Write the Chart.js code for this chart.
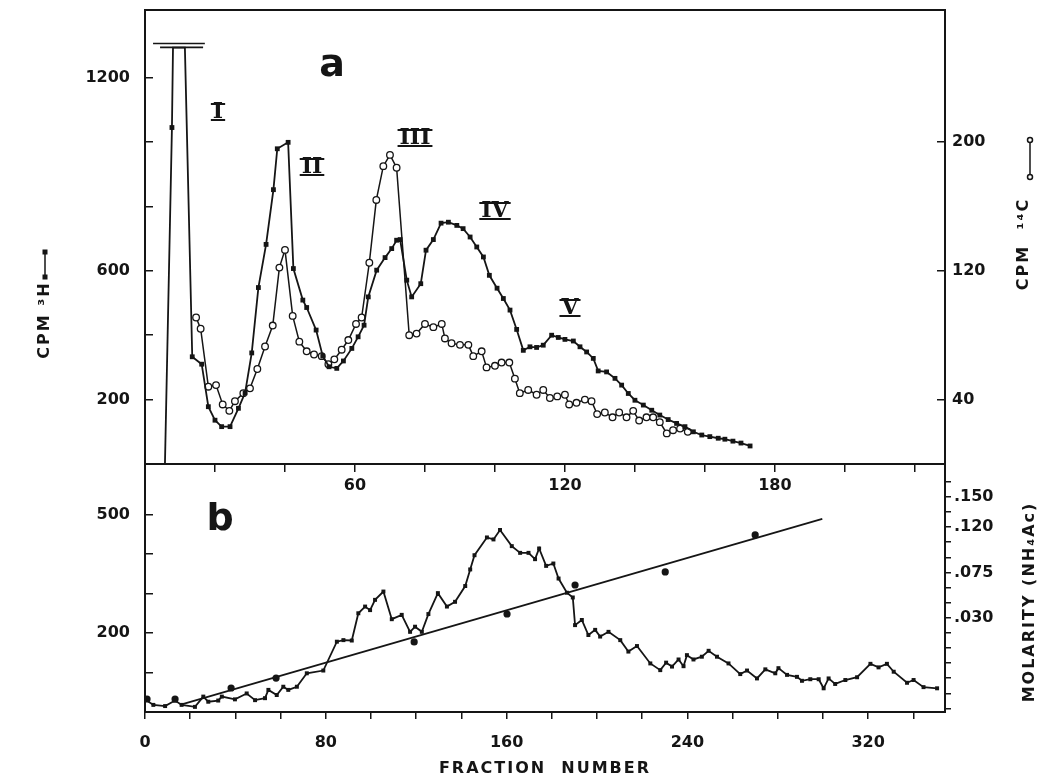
<!DOCTYPE html>
<html>
<head>
<meta charset="utf-8">
<script src="https://cdn.jsdelivr.net/npm/chart.js@4.4.0/dist/chart.umd.min.js"></script>
<style>
html, body { margin: 0; padding: 0; background: #fff; }
#wrap { position: relative; width: 1059px; height: 782px; }
#wrap canvas { position: absolute; left: 0; top: 0; }
</style>
</head>
<body>
<div id="wrap">
<canvas id="chartA" width="1059" height="782"></canvas>
<canvas id="chartB" width="1059" height="782"></canvas>
</div>
<script>
// ---- panel a : 3H (filled squares, left axis) ----
const h3Fraction = [5.7, 7.7, 8.0, 11.4, 13.5, 16.2, 18.1, 20.0, 21.9, 24.3, 26.7, 28.6, 30.5, 32.4, 34.6, 36.7, 37.8, 40.9,
    42.4, 45.1, 46.2, 48.9, 50.8, 52.6, 54.8, 56.7, 59.1, 60.9, 62.6, 63.8, 66.2, 68.6, 70.5, 71.9, 72.9, 74.8, 76.2, 78.8,
    80.3, 82.4, 84.6, 86.7, 89.1, 90.9, 92.9, 94.8, 96.7, 98.4, 100.6, 102.4, 104.3, 106.2, 108.1, 110.0, 111.9, 113.8,
    116.2, 118.1, 120.0, 122.4, 124.3, 126.2, 128.1, 129.5, 131.9, 134.3, 136.2, 138.1, 140.0, 142.4, 144.8, 147.1, 149.5,
    151.9, 154.3, 156.7, 159.1, 161.4, 163.8, 165.7, 168.0, 170.3, 172.9];
const h3Cpm = [0, 1045, 1293, 1293, 333, 310, 178, 136, 116, 116, 173, 221, 345, 548, 682, 852, 979, 999,
    607, 509, 486, 416, 335, 302, 297, 320, 359, 395, 431, 519, 602, 641, 669, 695, 697, 571, 519, 560,
    664, 697, 748, 751, 741, 731, 705, 674, 643, 586, 546, 514, 478, 418, 353, 364, 362, 369,
    400, 393, 387, 382, 364, 348, 328, 289, 286, 266, 245, 219, 198, 183, 167, 152, 138,
    126, 116, 100, 90, 85, 80, 77, 71, 65, 56];

// ---- panel a : 14C (open circles, right axis) ----
const c14Fraction = [14.6, 15.9, 18.1, 20.3, 22.2, 24.1, 25.7, 28.1, 30.0, 32.1, 34.3, 36.5, 38.4, 40.0, 42.2, 44.1, 46.2,
    48.3, 50.5, 52.4, 54.1, 56.2, 58.1, 60.3, 61.9, 64.1, 66.1, 68.1, 70.0, 71.9, 75.5, 77.6, 80.0, 82.4, 84.8, 85.7,
    87.6, 90.0, 92.4, 93.8, 96.2, 97.6, 100.0, 101.9, 104.1, 105.7, 107.1, 109.5, 111.9, 113.8, 115.7, 117.8, 120.0,
    121.2, 123.3, 125.7, 127.6, 129.2, 131.4, 133.6, 135.5, 137.6, 139.5, 141.2, 143.3, 145.2, 147.1, 149.1, 150.9,
    152.9, 155.1];
const c14Cpm = [91, 84, 48, 49, 37, 33, 39, 44, 47, 59, 73, 86, 122, 133, 92, 76, 70,
    68, 67, 62, 65, 71, 77, 87, 91, 125, 164, 185, 192, 184, 80, 81, 87, 85, 87, 78,
    75, 74, 74, 67, 70, 60, 61, 63, 63, 53, 44, 46, 43, 46, 41, 42, 43,
    37, 38, 40, 39, 31, 32, 29, 32, 29, 33, 27, 29, 29, 26, 19, 21,
    22, 20];

// off-scale mark over peak I (two short bars)
const breakFraction = [2.3, 17.1, 10, 4.3, 16.6];
const breakCpm = [1306, 1306, null, 1294, 1294];

// ---- panel b : radioactivity profile ----
const profFraction = [0.0, 3.7, 8.9, 13.3, 16.2, 22.1, 25.8, 28.0, 32.4, 34.0, 39.8, 45.0, 48.7, 53.1, 54.6, 58.3, 61.2,
    63.4, 67.2, 71.6, 78.9, 84.9, 87.8, 91.5, 94.4, 97.4, 99.6, 101.8, 105.5, 109.2, 113.6, 117.3, 119.5, 122.5, 125.4,
    129.6, 133.6, 137.2, 141.7, 143.9, 145.8, 151.3, 154.2, 157.1, 162.3, 166.0, 169.7, 172.6, 174.4, 177.5, 180.7,
    183.0, 186.7, 189.3, 190.3, 193.3, 196.2, 199.2, 201.4, 205.1, 210.3, 213.9, 217.7, 223.6, 228.0, 230.6, 233.2,
    236.1, 238.3, 239.8, 242.7, 246.4, 249.4, 253.1, 258.2, 263.4, 266.4, 270.8, 274.5, 278.9, 280.3, 284.1, 288.5,
    290.7, 294.4, 298.1, 300.3, 302.5, 305.4, 309.9, 315.1, 321.0, 324.6, 328.3, 331.3, 337.2, 340.1, 344.5, 350.5];
const profCpm = [32, 18, 15, 29, 18, 13, 39, 26, 29, 39, 32, 47, 30, 35, 56, 43, 64,
    56, 64, 98, 105, 178, 182, 181, 250, 267, 258, 284, 305, 235, 246, 203, 216, 203, 248,
    301, 267, 279, 319, 361, 397, 442, 437, 461, 420, 403, 403, 387, 414, 370, 376,
    338, 302, 290, 220, 233, 195, 208, 191, 203, 182, 153, 167, 123, 106, 125, 115,
    133, 116, 144, 133, 140, 155, 140, 123, 96, 105, 85, 108, 98, 111, 94, 89,
    79, 83, 83, 60, 85, 71, 81, 88, 122, 113, 122, 102, 74, 81, 63, 60];

// ---- panel b : NH4Ac gradient (fitted line + measured points) ----
const gradFraction = [15.5, 299.7];
const gradMolarity = [-0.0565, 0.128];
const molFraction = [0.9, 13.3, 38.1, 58.0, 119.1, 160.2, 190.3, 230.2, 270.0];
const molValue = [-0.0506, -0.0506, -0.0397, -0.0298, 0.006, 0.0337, 0.0625, 0.0754, 0.1121];

// ---- ticks ----
const aFracTicks = [20, 40, 60, 80, 100, 120, 140, 160, 180, 200, 220];
const aFracLabels = [60, 120, 180];
const h3Ticks = [200, 400, 600, 800, 1000, 1200];
const h3Labels = [1200, 600, 200];
const c14Ticks = [40, 120, 200];
const bFracTicks = [0, 20, 40, 60, 80, 100, 120, 140, 160, 180, 200, 220, 240, 260, 280, 300, 320, 340];
const bFracLabels = [0, 80, 160, 240, 320];
const profTicks = [100, 200, 300, 400, 500];
const profLabels = [500, 200];
const molTicks = [-0.06, -0.045, -0.03, -0.015, 0, 0.015, 0.03, 0.045, 0.06, 0.075, 0.09, 0.105, 0.12, 0.135, 0.15, 0.165];
const molLabels = [0.15, 0.12, 0.075, 0.03];

const INK = '#151515';
const tickFont = { family: 'DejaVu Sans', weight: 'bold', size: 16 };

function pts(xs, ys) {
    return xs.map((x, i) => ({ x: x, y: ys[i] }));
}
function fixedTicks(list) {
    return scale => { scale.ticks = list.map(v => ({ value: v })); };
}
function pick(list, fmt) {
    return v => list.some(l => Math.abs(l - v) < 1e-9) ? (fmt ? fmt(v) : String(v)) : '';
}
// pin the axis box size so both panels share the same plot edges
function size(w, h) {
    return scale => {
        if (w !== null) scale.width = w;
        if (h !== null) scale.height = h;
        scale.paddingTop = 0;
        scale.paddingBottom = 0;
        scale.paddingLeft = 0;
        scale.paddingRight = 0;
    };
}

// box round each panel
const frame = {
    id: 'frame',
    afterDraw(chart) {
        const { ctx, chartArea: a } = chart;
        ctx.save();
        ctx.strokeStyle = INK;
        ctx.lineWidth = 2;
        ctx.strokeRect(a.left, a.top, a.right - a.left, a.bottom - a.top);
        ctx.restore();
    }
};

// free text: panel letters, peak numerals, side titles
const notes = {
    id: 'notes',
    afterDraw(chart, args, opts) {
        const ctx = chart.ctx;
        (opts.items || []).forEach(it => {
            ctx.save();
            ctx.fillStyle = INK;
            ctx.strokeStyle = INK;
            ctx.font = it.font;
            ctx.letterSpacing = it.spacing || '0px';
            ctx.textAlign = 'center';
            ctx.textBaseline = 'middle';
            ctx.translate(it.x, it.y);
            if (it.rotate) ctx.rotate(it.rotate);
            ctx.fillText(it.text, 0, 0);
            if (it.bars) {
                const w = ctx.measureText(it.text).width / 2 + 2;
                ctx.lineWidth = 2.2;
                ctx.beginPath();
                ctx.moveTo(-w, -it.bars); ctx.lineTo(w, -it.bars);
                ctx.moveTo(-w, it.bars); ctx.lineTo(w, it.bars);
                ctx.stroke();
            }
            ctx.restore();
        });
        (opts.keys || []).forEach(k => {
            ctx.save();
            ctx.strokeStyle = INK;
            ctx.fillStyle = k.open ? '#fff' : INK;
            ctx.lineWidth = 1.5;
            ctx.beginPath();
            ctx.moveTo(k.x, k.y1); ctx.lineTo(k.x, k.y2);
            ctx.stroke();
            [k.y1, k.y2].forEach(y => {
                ctx.beginPath();
                if (k.open) { ctx.arc(k.x, y, 2.5, 0, Math.PI * 2); ctx.fill(); ctx.stroke(); }
                else ctx.fillRect(k.x - 2.5, y - 2.5, 5, 5);
            });
            ctx.restore();
        });
    }
};

const roman = 'bold 22px "DejaVu Serif"';
const sideFont = 'bold 16px "DejaVu Sans"';

new Chart(document.getElementById('chartA'), {
    type: 'line',
    data: {
        datasets: [{
            label: 'CPM 3H',
            data: pts(h3Fraction, h3Cpm),
            yAxisID: 'yL',
            borderColor: INK,
            borderWidth: 1.8,
            pointStyle: 'rect',
            pointRadius: c => (h3Cpm[c.dataIndex] === 0 || h3Cpm[c.dataIndex] > 1200) ? 0 : 3.4,
            pointBackgroundColor: INK,
            pointBorderWidth: 0
        }, {
            label: 'CPM 14C',
            data: pts(c14Fraction, c14Cpm),
            yAxisID: 'yR',
            borderColor: INK,
            borderWidth: 1.5,
            pointStyle: 'circle',
            pointRadius: 3.3,
            pointBackgroundColor: '#fff',
            pointBorderColor: INK,
            pointBorderWidth: 1.3
        }, {
            label: 'break',
            data: pts(breakFraction, breakCpm),
            yAxisID: 'yL',
            borderColor: INK,
            borderWidth: 1.6,
            pointRadius: 0,
            spanGaps: false
        }]
    },
    options: {
        responsive: false,
        animation: false,
        devicePixelRatio: 1,
        layout: { padding: { top: 10, left: 0, right: 0, bottom: 278 } },
        plugins: {
            legend: { display: false },
            tooltip: { enabled: false },
            notes: {
                items: [
                    { text: 'a', x: 332, y: 66, font: 'bold 38px "DejaVu Sans"' },
                    { text: 'I', x: 218, y: 112, font: roman, bars: 8 },
                    { text: 'II', x: 312, y: 167, font: roman, bars: 8 },
                    { text: 'III', x: 415, y: 138, font: roman, bars: 8 },
                    { text: 'IV', x: 495, y: 211, font: roman, bars: 8 },
                    { text: 'V', x: 570, y: 308, font: roman, bars: 8 },
                    { text: 'CPM ³H', x: 45, y: 320, font: sideFont, spacing: '2px', rotate: -Math.PI / 2 },
                    { text: 'CPM  ¹⁴C', x: 1024, y: 244, font: sideFont, spacing: '2px', rotate: -Math.PI / 2 }
                ],
                keys: [
                    { x: 45, y1: 252, y2: 277, open: false },
                    { x: 1030, y1: 140, y2: 177, open: true }
                ]
            }
        },
        scales: {
            x: {
                type: 'linear', position: 'bottom', min: 0, max: 228.6,
                afterFit: size(null, 40),
                afterBuildTicks: fixedTicks(aFracTicks),
                ticks: { callback: pick(aFracLabels), font: tickFont, color: INK, padding: 4, maxRotation: 0, autoSkip: false },
                grid: { drawOnChartArea: false, tickLength: 8, color: INK, lineWidth: 1.5 },
                border: { display: false }
            },
            yL: {
                type: 'linear', position: 'left', min: 0, max: 1410,
                afterFit: size(145, null),
                afterBuildTicks: fixedTicks(h3Ticks),
                ticks: { callback: pick(h3Labels), font: tickFont, color: INK, padding: 23, autoSkip: false },
                grid: { drawOnChartArea: false, tickLength: -8, color: INK, lineWidth: 1.5 },
                border: { display: false }
            },
            yR: {
                type: 'linear', position: 'right', min: 0, max: 282,
                afterFit: size(114, null),
                afterBuildTicks: fixedTicks(c14Ticks),
                ticks: { font: tickFont, color: INK, padding: 15, autoSkip: false },
                grid: { drawOnChartArea: false, tickLength: -8, color: INK, lineWidth: 1.5 },
                border: { display: false }
            }
        }
    },
    plugins: [frame, notes]
});

new Chart(document.getElementById('chartB'), {
    type: 'line',
    data: {
        datasets: [{
            label: 'CPM',
            data: pts(profFraction, profCpm),
            yAxisID: 'yC',
            borderColor: INK,
            borderWidth: 1.8,
            pointStyle: 'rect',
            pointRadius: 2.8,
            pointBackgroundColor: INK,
            pointBorderWidth: 0
        }, {
            label: 'gradient',
            data: pts(gradFraction, gradMolarity),
            yAxisID: 'yM',
            borderColor: INK,
            borderWidth: 1.8,
            pointRadius: 0
        }, {
            label: 'molarity',
            data: pts(molFraction, molValue),
            yAxisID: 'yM',
            showLine: false,
            pointStyle: 'circle',
            pointRadius: 3.6,
            pointBackgroundColor: INK,
            pointBorderWidth: 0
        }]
    },
    options: {
        responsive: false,
        animation: false,
        devicePixelRatio: 1,
        layout: { padding: { top: 464, left: 0, right: 0, bottom: 0 } },
        plugins: {
            legend: { display: false },
            tooltip: { enabled: false },
            notes: {
                items: [
                    { text: 'b', x: 220, y: 520, font: 'bold 38px "DejaVu Sans"' },
                    { text: 'FRACTION  NUMBER', x: 545, y: 769, font: 'bold 16px "DejaVu Sans"', spacing: '2px' },
                    { text: 'MOLARITY (NH₄Ac)', x: 1030, y: 602, font: sideFont, spacing: '2px', rotate: -Math.PI / 2 }
                ]
            }
        },
        scales: {
            x: {
                type: 'linear', position: 'bottom', min: 0, max: 354,
                afterFit: size(null, 70),
                afterBuildTicks: fixedTicks(bFracTicks),
                ticks: { callback: pick(bFracLabels), font: tickFont, color: INK, padding: 14, maxRotation: 0, autoSkip: false },
                grid: { drawOnChartArea: false, tickLength: 7, color: INK, lineWidth: 1.5 },
                border: { display: false }
            },
            yC: {
                type: 'linear', position: 'left', min: 0, max: 628,
                afterFit: size(145, null),
                afterBuildTicks: fixedTicks(profTicks),
                ticks: { callback: pick(profLabels), font: tickFont, color: INK, padding: 23, autoSkip: false },
                grid: { drawOnChartArea: false, tickLength: -8, color: INK, lineWidth: 1.5 },
                border: { display: false }
            },
            yM: {
                type: 'linear', position: 'right', min: -0.0635, max: 0.1825,
                afterFit: size(114, null),
                afterBuildTicks: fixedTicks(molTicks),
                ticks: { callback: pick(molLabels, v => v.toFixed(3).replace(/^0/, '')), font: tickFont, color: INK, padding: 3, autoSkip: false },
                grid: { drawOnChartArea: false, tickLength: 6, color: INK, lineWidth: 1.5 },
                border: { display: false }
            }
        }
    },
    plugins: [frame, notes]
});
</script>
</body>
</html>
